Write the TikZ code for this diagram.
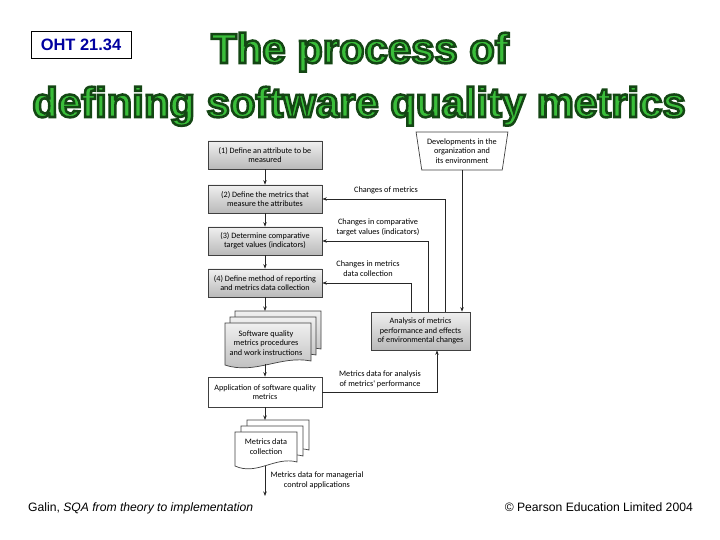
\documentclass[tikz,border=0pt]{standalone}
\usepackage{fontspec}
\setmainfont{Liberation Sans}
\newfontfamily\boxfont{Carlito}
\newfontfamily\titlefont[FakeBold=6]{Liberation Sans Bold}
\usetikzlibrary{arrows.meta,shapes.geometric}

\definecolor{titlegreen}{RGB}{58,190,58}
\definecolor{titleedge}{RGB}{20,70,20}
\definecolor{ohtblue}{RGB}{0,0,160}
% dark stroke round the green letters
\newcommand{\edgetext}[1]{\special{pdf:code 0.078 0.275 0.078 RG}#1}

% one sheet of a document symbol: x, y, width, bottom, fill
\newcommand{\docsheet}[5]{%
  \draw[draw=black!75,#5] (#1,#2) -- ({#1+#3},#2) -- ({#1+#3},{#4-4})
    .. controls ({#1+0.65*#3},{#4-10}) and ({#1+0.35*#3},{#4+10}) .. (#1,#4) -- cycle;}

\begin{document}
\begin{tikzpicture}[x=1bp,y=-1bp,
  graybox/.style={draw=black!75,line width=0.7bp,top color=gray!12,bottom color=gray!55,minimum width=114bp,minimum height=28bp,align=center,inner sep=1bp,font=\boxfont\fontsize{8.2}{9.3}\selectfont},
  plainbox/.style={draw=black!75,line width=0.7bp,fill=white,minimum width=114bp,minimum height=30bp,align=center,inner sep=1bp,font=\boxfont\fontsize{8.2}{9.3}\selectfont},
  note/.style={align=center,inner sep=0pt,font=\boxfont\fontsize{8.3}{9.8}\selectfont},
  arr/.style={-{Stealth[length=4.5bp,width=3.5bp]},black!85,line width=0.7bp},
  bigtitle/.style={anchor=base,inner sep=0pt,text=titlegreen,font=\titlefont\fontsize{42}{42}\selectfont}]
		\useasboundingbox (0,0) rectangle (720,540);
		
		\node[draw,minimum width=100bp,minimum height=27bp,text=ohtblue,font=\fontsize{16.5}{18}\selectfont\bfseries] (oht) at (81,44.5) {OHT 21.34};
		\node[bigtitle] (title1) at (360,63) {\edgetext{The process of}};
		\node[bigtitle] (title2) at (359,117) {\edgetext{defining software quality metrics}};
		
		% main column
		\node[graybox] (def1) at (265,155) {(1) Define an attribute to be\\measured};
		\node[graybox] (def2) at (265,199) {(2) Define the metrics that\\measure the attributes};
		\node[graybox] (def3) at (265,241) {(3) Determine comparative\\target values (indicators)};
		\node[graybox] (def4) at (265,283) {(4) Define method of reporting\\and metrics data collection};
		
		\foreach \k in {2,1,0}
			\docsheet{225+5*\k}{323-6*\k}{86}{365-6*\k}{line width=0.7bp,top color=gray!12,bottom color=gray!55};
		\node[note] (docA) at (266,343) {Software quality\\metrics procedures\\and work instructions};
		\coordinate (docAtop) at (265,311);
		\coordinate (docAbot) at (265,364);
		
		\node[plainbox] (app) at (265,392) {Application of software quality\\metrics};
		
		\foreach \k in {2,1,0}
			\docsheet{235+6*\k}{432-6*\k}{62}{466-6*\k}{line width=0.7bp,fill=white};
		\node[note] (docB) at (266,447) {Metrics data\\collection};
		\coordinate (docBtop) at (265,420);
		\coordinate (docBbot) at (265,466);
		\coordinate (ctrl) at (265,496);
		
		% right side
		\node[graybox,minimum width=99bp,minimum height=38bp] (ana) at (420.5,331) {Analysis of metrics\\performance and effects\\of environmental changes};
		\node[trapezium,draw=black!75,line width=0.7bp,fill=white,shape border rotate=180,trapezium stretches=true,
		      trapezium left angle=79,trapezium right angle=79,minimum width=92bp,minimum height=38bp,note] (dev) at (462,151)
		      {Developments in the\\organization and\\its environment};
		
		\draw[arr] (def1) -- (def2);
		\draw[arr] (def2) -- (def3);
		\draw[arr] (def3) -- (def4);
		\draw[arr] (def4) -- (docAtop);
		\draw[arr] (docAbot) -- (app);
		\draw[arr] (app) -- (docBtop);
		\draw[arr] (docBbot) -- (ctrl);
		
		\draw[arr] (dev.south) -- (dev.south |- ana.north);
		\draw[arr] ([xshift=24.5bp]ana.north) |- (def2.east);
		\draw[arr] ([xshift=7.5bp]ana.north) |- (def3.east);
		\draw[arr] ([xshift=-9.5bp]ana.north) |- (def4.east);
		\draw[arr] (app.east) -| ([xshift=16.5bp]ana.south);
		
		\node[note] (chg1) at (386,190) {Changes of metrics};
		\node[note] (chg2) at (378,227) {Changes in comparative\\target values (indicators)};
		\node[note] (chg3) at (368,269) {Changes in metrics\\data collection};
		\node[note] (perf) at (380,379) {Metrics data for analysis\\of metrics' performance};
		\node[note] (mgmt) at (317,480) {Metrics data for managerial\\control applications};
		
		\node[anchor=base west,inner sep=0pt,font=\fontsize{12.2}{14}\selectfont] (credit) at (28,511) {Galin, \textit{SQA from theory to implementation}};
		\node[anchor=base east,inner sep=0pt,font=\fontsize{12.2}{14}\selectfont] (copy) at (693,511) {© Pearson Education Limited 2004};
\end{tikzpicture}
\end{document}
